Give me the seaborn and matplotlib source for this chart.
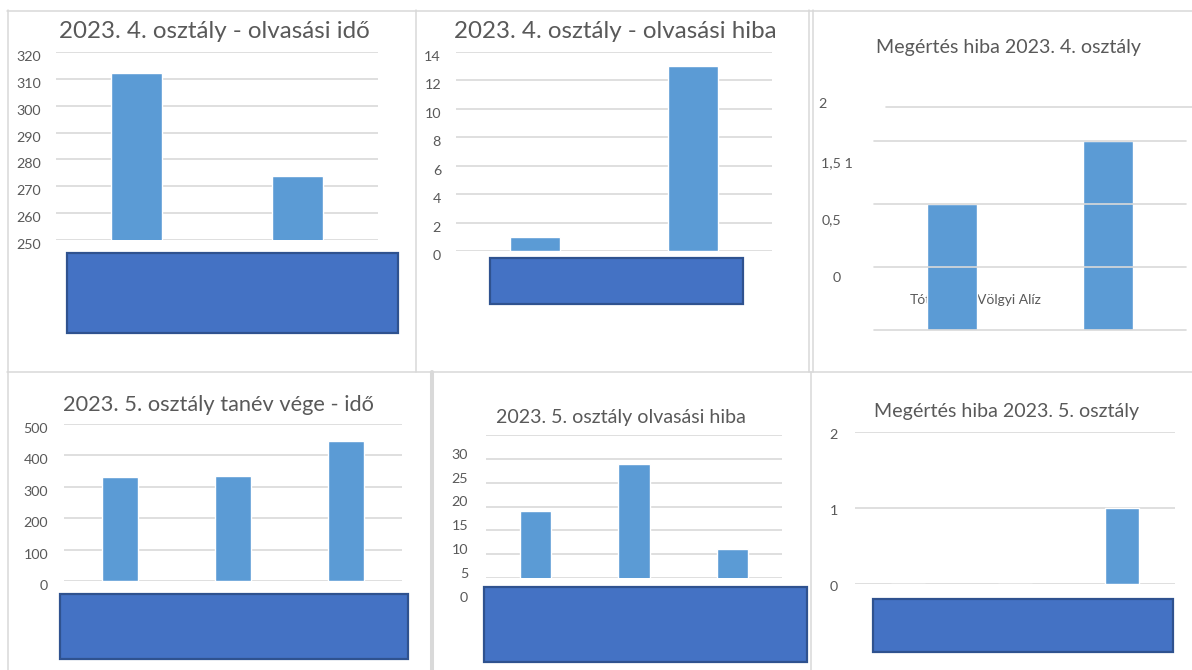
#!/usr/bin/env python3
import matplotlib

matplotlib.use("Agg")
import matplotlib.pyplot as plt
import seaborn as sns
from matplotlib.lines import Line2D
from matplotlib.patches import Rectangle
from matplotlib.transforms import ScaledTranslation

W, H = 1192, 670

BAR_COLOR = "#5b9bd5"
MASK_FACE = "#4472c4"
MASK_EDGE = "#2f528f"
GRID_COLOR = "#d9d9d9"
TEXT_COLOR = "#595959"

# --- data -------------------------------------------------------------
students_4 = ["Tóth", "Völgyi Alíz"]
students_5 = ["1. tanuló", "2. tanuló", "3. tanuló"]

olvasasi_ido_4 = [312, 274]
olvasasi_hiba_4 = [1, 13]
megertes_hiba_4 = [2, 3]  # heights as drawn in the (broken) original chart
olvasasi_ido_5 = [330, 333, 447]
olvasasi_hiba_5 = [19, 29, 11]
megertes_hiba_5 = [0, 0, 1]

ticks_ido_4 = [250, 260, 270, 280, 290, 300, 310, 320]
ticks_hiba_4 = [0, 2, 4, 6, 8, 10, 12, 14]
grid_megertes_4 = [0, 1, 2, 3]
labels_megertes_4 = ["2", "1,5 1", "0,5", "0"]
ticks_ido_5 = [0, 100, 200, 300, 400, 500]
ticks_hiba_5 = [5, 10, 15, 20, 25, 30, 35]
labels_hiba_5 = ["5", "10", "15", "20", "25", "30", ""]
ticks_megertes_5 = [0, 1, 2]

titles = [
    "2023. 4. osztály - olvasási idő",
    "2023. 4. osztály - olvasási hiba",
    "Megértés hiba 2023. 4. osztály",
    "2023. 5. osztály tanév vége - idő",
    "2023. 5. osztály olvasási hiba",
    "Megértés hiba 2023. 5. osztály",
]


def fx(x):
    return x / W


def fy(y):
    return 1 - y / H


def axes_px(fig, left, top, right, bottom):
    return fig.add_axes([left / W, 1 - bottom / H, (right - left) / W, (bottom - top) / H])


def bar_panel(fig, box, names, values, ylim, yticks=None, yticklabels=None, pad_px=15, dy_px=4):
    ax = axes_px(fig, *box)
    sns.barplot(x=names, y=values, color=BAR_COLOR, saturation=1, width=0.32, ax=ax, zorder=2)
    ax.set_ylim(*ylim)
    ax.set_xlabel("")
    ax.set_ylabel("")
    ax.tick_params(axis="x", bottom=False, labelbottom=False)
    if yticks is not None:
        ax.set_yticks(yticks)
        if yticklabels is not None:
            ax.set_yticklabels(yticklabels)
        ax.tick_params(axis="y", length=0, pad=pad_px * 0.72, labelsize=10.3, labelcolor=TEXT_COLOR)
        ax.grid(axis="y", color=GRID_COLOR, linewidth=1.2)
        ax.set_axisbelow(True)
        shift = ScaledTranslation(0, -dy_px / 100, fig.dpi_scale_trans)
        for lbl in ax.get_yticklabels():
            lbl.set_transform(lbl.get_transform() + shift)
    else:
        ax.set_yticks([])
    sns.despine(ax=ax, left=True, bottom=True)
    ax.patch.set_alpha(0)
    return ax


def mask(fig, left, top, right, bottom):
    fig.patches.append(
        Rectangle(
            (fx(left), fy(bottom)),
            (right - left) / W,
            (bottom - top) / H,
            transform=fig.transFigure,
            facecolor=MASK_FACE,
            edgecolor=MASK_EDGE,
            linewidth=1.6,
            zorder=5,
        )
    )


def hline(fig, x0, x1, y, lw=1.1):
    fig.add_artist(Line2D([fx(x0), fx(x1)], [fy(y), fy(y)], color=GRID_COLOR, linewidth=lw))


def vline(fig, x, y0, y1, lw=1.1):
    fig.add_artist(Line2D([fx(x), fx(x)], [fy(y0), fy(y1)], color=GRID_COLOR, linewidth=lw))


def title(fig, x, y, text, size):
    fig.text(fx(x), fy(y), text, ha="center", va="baseline", fontsize=size, color=TEXT_COLOR)


def main():
    sns.set_style("white")
    plt.rcParams["font.family"] = ["Lato", "DejaVu Sans"]

    fig = plt.figure(figsize=(W / 100, H / 100), dpi=100)

    # panel borders
    hline(fig, 7, W, 10.5)
    hline(fig, 7, W, 372)
    vline(fig, 8, 10, H)
    vline(fig, 416, 10, 372)
    vline(fig, 809, 10, 372)
    vline(fig, 813, 10, 372)
    vline(fig, 432, 372, H, lw=2.9)
    vline(fig, 811, 372, H)

    # top row
    bar_panel(fig, (56, 52, 378, 240), students_4, olvasasi_ido_4, (250, 320), ticks_ido_4)
    title(fig, 214, 38, titles[0], 17.4)
    mask(fig, 67, 253, 398, 333)

    bar_panel(fig, (456, 52, 772, 251), students_4, olvasasi_hiba_4, (0, 14), ticks_hiba_4)
    title(fig, 615, 38, titles[1], 17.4)
    mask(fig, 490, 258, 743, 304)

    ax3 = bar_panel(fig, (874, 141, 1186, 330), students_4, megertes_hiba_4, (0, 3))
    for g in grid_megertes_4:
        ax3.axhline(g, color=GRID_COLOR, linewidth=1.2, zorder=3, clip_on=False)
    hline(fig, 886, W, 107, lw=1.2)
    ax3.text(-0.27, 0.48, students_4[0], ha="left", va="center", fontsize=10, color=TEXT_COLOR, zorder=1)
    ax3.text(0.16, 0.48, students_4[1], ha="left", va="center", fontsize=10, color=TEXT_COLOR, zorder=1)
    for label, (x, y) in zip(labels_megertes_4, [(827, 104), (853, 163), (841, 220), (841, 278)]):
        fig.text(fx(x), fy(y), label, ha="right", va="center", fontsize=10.3, color=TEXT_COLOR)
    title(fig, 1008, 53, titles[2], 14.1)

    # bottom row
    bar_panel(fig, (64, 424, 402, 581), students_5, olvasasi_ido_5, (0, 500), ticks_ido_5, pad_px=16)
    title(fig, 218, 411, titles[3], 15.7)
    mask(fig, 60, 594, 408, 659)

    bar_panel(
        fig, (486, 435, 782, 578), students_5, olvasasi_hiba_5, (5, 35), ticks_hiba_5, labels_hiba_5,
        pad_px=18, dy_px=-5,
    )
    fig.text(fx(468), fy(598), "0", ha="right", va="center", fontsize=10.3, color=TEXT_COLOR)
    title(fig, 621, 423, titles[4], 14.1)
    mask(fig, 484, 587, 807, 662)

    bar_panel(fig, (855, 432, 1175, 584), students_5, megertes_hiba_5, (0, 2), ticks_megertes_5, pad_px=17, dy_px=2)
    title(fig, 1007, 417, titles[5], 14.1)
    mask(fig, 873, 599, 1173, 652)

    fig.savefig("out.png", dpi=100)
    plt.close(fig)


if __name__ == "__main__":
    main()
